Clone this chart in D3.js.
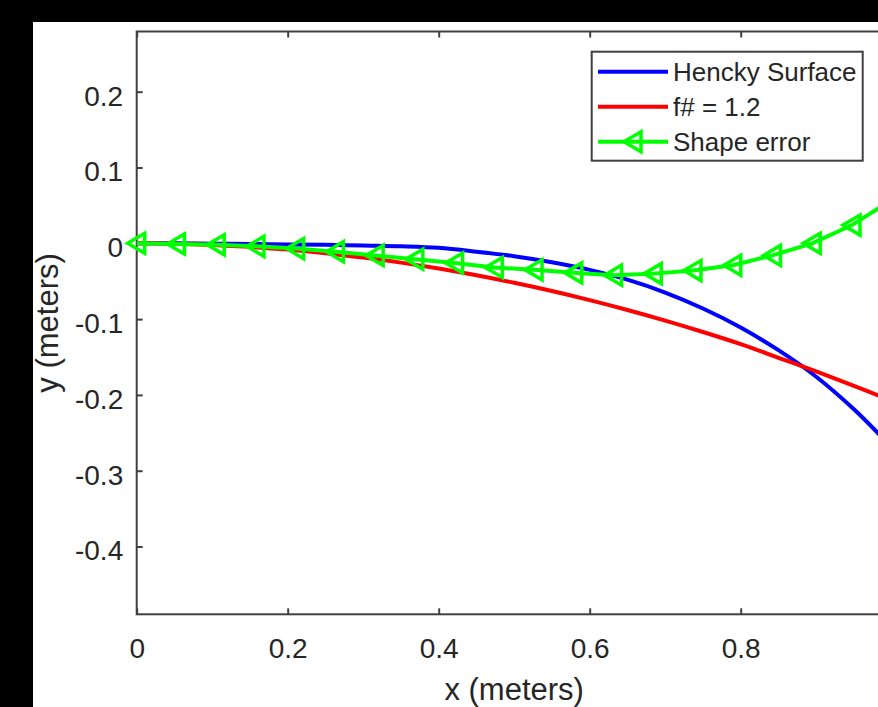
<!DOCTYPE html>
<html lang="en">
<head>
    <meta charset="UTF-8">
    <title>hencky surface vs parabola</title>
    <script src="https://d3js.org/d3.v7.min.js"></script>
    <style>
        body {
            margin: 0;
            background: black;
        }
        svg {
            display: block;
        }
        .tick text, .label, .legend text {
            font-family: "Liberation Sans", Arial, sans-serif;
            fill: #262626;
        }
        .tick line {
            stroke: #404040;
            stroke-width: 2;
        }
    </style>
</head>
<body>
    <div id="chart"></div>
    <script>
        // data

        const surfaceX = [0, 0.05, 0.1, 0.15, 0.2, 0.25, 0.3, 0.35, 0.4, 0.45, 0.5,
            0.55, 0.6, 0.65, 0.7, 0.75, 0.8, 0.85, 0.9, 0.95, 1.0]
        const henckyY = [0, 0, -0.0005, -0.001, -0.0015, -0.002, -0.003, -0.004, -0.006, -0.011, -0.017,
            -0.025, -0.035, -0.048, -0.065, -0.086, -0.111, -0.141, -0.176, -0.219, -0.269]
        const parabolaY = [0, -0.0005, -0.0021, -0.0047, -0.0083, -0.013, -0.0188, -0.0255, -0.0333, -0.0422, -0.0521,
            -0.063, -0.075, -0.088, -0.102, -0.117, -0.133, -0.151, -0.169, -0.188, -0.208]

        const errorX = [0, 0.0526, 0.1053, 0.1579, 0.2105, 0.2632, 0.3158, 0.3684, 0.4211, 0.4737,
            0.5263, 0.5789, 0.6316, 0.6842, 0.7368, 0.7895, 0.8421, 0.8947, 0.9474, 1.0]
        const errorY = [0, -0.001, -0.002, -0.004, -0.007, -0.011, -0.016, -0.021, -0.026, -0.032,
            -0.035, -0.039, -0.042, -0.040, -0.036, -0.029, -0.016, 0.000, 0.024, 0.057]

        const xTicks = [0, 0.2, 0.4, 0.6, 0.8, 1]
        const yTicks = [-0.4, -0.3, -0.2, -0.1, 0, 0.1, 0.2]
        const seriesNames = ['Hencky Surface', 'f# = 1.2', 'Shape error']
        const seriesColors = ['#0000ff', '#ff0000', '#00ff00']

        const WIDTH = 878
        const HEIGHT = 707
        const LEFT = 136.7
        const RIGHT = 891.7
        const TOP = 31.5
        const BOTTOM = 614.3

        const svg = d3.select('#chart')
            .append('svg')
            .attr('width', WIDTH)
            .attr('height', HEIGHT)

        // white figure panel over the black page
        svg.append('rect')
            .attr('x', 33).attr('y', 22)
            .attr('width', WIDTH - 33).attr('height', HEIGHT - 22)
            .attr('fill', 'white')

        const x = d3.scaleLinear().domain([0, 1]).range([LEFT, RIGHT])
        const y = d3.scaleLinear().domain([-0.4894, 0.2794]).range([BOTTOM, TOP])

        // plain hyphen minus like matlab, and the "1" label falls off the page anyway
        const fmt = d => (d === 1 ? '' : String(d))

        // axes, ticks point inward like matlab
        const xAxis = svg.append('g')
            .attr('transform', `translate(0,${BOTTOM})`)
            .call(d3.axisBottom(x).tickValues(xTicks).tickSizeInner(-6).tickSizeOuter(0).tickPadding(24)
                .tickFormat(fmt))
        xAxis.selectAll('text').style('font-size', '28px')

        svg.append('g')
            .attr('transform', `translate(0,${TOP})`)
            .call(d3.axisTop(x).tickValues(xTicks).tickSizeInner(-6).tickSizeOuter(0).tickFormat(''))

        const yAxis = svg.append('g')
            .attr('transform', `translate(${LEFT},0)`)
            .call(d3.axisLeft(y).tickValues(yTicks).tickSizeInner(-6).tickSizeOuter(0).tickPadding(13.5)
                .tickFormat(fmt))
        yAxis.selectAll('text').style('font-size', '28px').attr('dy', '0.48em')

        svg.selectAll('.domain').remove()

        svg.append('rect')
            .attr('x', LEFT).attr('y', TOP)
            .attr('width', RIGHT - LEFT).attr('height', BOTTOM - TOP)
            .attr('fill', 'none')
            .attr('stroke', '#404040')
            .attr('stroke-width', 2)

        svg.append('text').attr('class', 'label')
            .attr('x', (LEFT + RIGHT) / 2).attr('y', 700)
            .attr('text-anchor', 'middle')
            .style('font-size', '31px')
            .text('x (meters)')

        svg.append('text').attr('class', 'label')
            .attr('transform', `translate(58,${(TOP + BOTTOM) / 2}) rotate(-90)`)
            .attr('text-anchor', 'middle')
            .style('font-size', '31px')
            .text('y (meters)')

        // lines
        const smooth = d3.line().curve(d3.curveCatmullRom)
        const straight = d3.line()

        svg.append('path')
            .attr('d', smooth(surfaceX.map((d, i) => [x(d), y(henckyY[i])])))
            .attr('fill', 'none').attr('stroke', seriesColors[0]).attr('stroke-width', 4)

        svg.append('path')
            .attr('d', smooth(surfaceX.map((d, i) => [x(d), y(parabolaY[i])])))
            .attr('fill', 'none').attr('stroke', seriesColors[1]).attr('stroke-width', 4)

        svg.append('path')
            .attr('d', straight(errorX.map((d, i) => [x(d), y(errorY[i])])))
            .attr('fill', 'none').attr('stroke', seriesColors[2]).attr('stroke-width', 4)

        // left-pointing triangle marker
        const tri = (cx, cy) => `M${cx - 9},${cy} L${cx + 8},${cy - 10} L${cx + 8},${cy + 10} Z`

        svg.append('g').selectAll('path')
            .data(errorX).enter()
            .append('path')
            .attr('d', (d, i) => tri(x(d), y(errorY[i])))
            .attr('fill', 'none')
            .attr('stroke', seriesColors[2])
            .attr('stroke-width', 3.5)

        // legend
        const legend = svg.append('g').attr('class', 'legend')
        legend.append('rect')
            .attr('x', 591.7).attr('y', 51.7)
            .attr('width', 271).attr('height', 109)
            .attr('fill', 'white')
            .attr('stroke', '#404040')
            .attr('stroke-width', 2)

        const rows = legend.selectAll('.row')
            .data(seriesNames).enter()
            .append('g').attr('class', 'row')
            .attr('transform', (d, i) => `translate(0,${71.7 + i * 35})`)

        rows.append('line')
            .attr('x1', 598).attr('x2', 668)
            .attr('stroke', (d, i) => seriesColors[i])
            .attr('stroke-width', 4)

        rows.filter((d, i) => i === 2).append('path')
            .attr('d', tri(633, 0))
            .attr('fill', 'none')
            .attr('stroke', seriesColors[2])
            .attr('stroke-width', 3.5)

        rows.append('text')
            .attr('x', 673)
            .attr('dy', '0.36em')
            .style('font-size', '26px')
            .text(d => d)
    </script>
</body>
</html>
